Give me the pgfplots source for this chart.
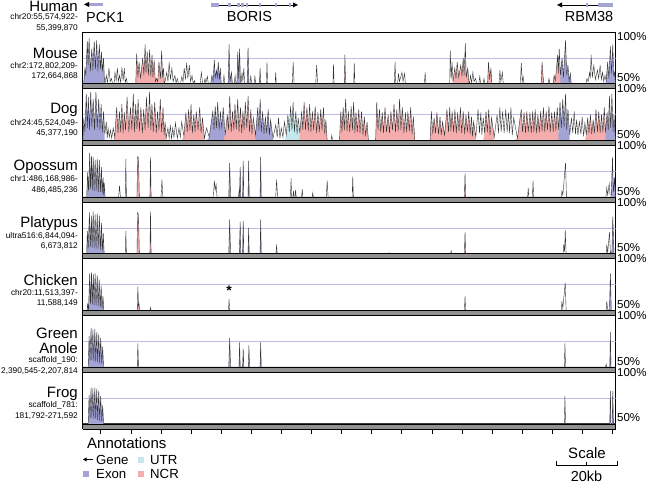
\documentclass[border=0pt]{standalone}
\usepackage{pgfplots}
\pgfplotsset{compat=1.18}
\usepackage{pgfplotstable}
\usepackage{fontspec}
\setmainfont{Liberation Sans}
\definecolor{exon}{RGB}{163,163,214}
\definecolor{ncr}{RGB}{245,172,172}
\definecolor{utr}{RGB}{196,232,236}
\definecolor{midline}{RGB}{188,188,228}
\definecolor{band}{RGB}{145,145,145}
\newcommand{\bigf}{\fontsize{15}{17}\selectfont}
\newcommand{\smf}{\fontsize{8.3}{9}\selectfont}
\newcommand{\pctf}{\fontsize{11.5}{13}\selectfont}

\pgfplotstableread[row sep=\\]{x y c\\
0 50 0\\ 0.3 50 1\\ 0.7 65 1\\ 1.0 58 1\\ 1.5 91 1\\ 1.75 68 1\\ 2.1 94 1\\ 2.5 62 1\\ 3.0 84 1\\ 3.35 63 1\\ 3.8 91 1\\ 4.2 64 1\\ 4.6 92 1\\ 5.0 62 1\\ 5.5 88 1\\ 5.85 64 1\\ 6.2 81 1\\ 6.5 62 1\\ 6.9 75 1\\ 7.2 52 1\\ 7.4 50 0\\ 7.8 58 0\\ 8.2 51 0\\ 8.7 65 0\\ 9.1 52 0\\ 9.5 55 0\\ 9.9 50 0\\ 10.4 50 0\\ 10.7 61 0\\ 11.1 53 0\\ 11.5 65 0\\ 11.8 52 0\\ 12.2 58 0\\ 12.6 51 0\\ 13.0 66 0\\ 13.4 53 0\\ 13.8 65 0\\ 14.1 51 0\\ 14.5 55 0\\ 14.8 50 0\\
17.6 50 2\\ 17.9 79 2\\ 18.3 56 2\\ 18.7 71 2\\ 19.2 55 2\\ 19.9 75 2\\ 20.3 58 2\\ 20.7 88 2\\ 21.0 60 2\\ 21.4 81 2\\ 21.8 58 2\\ 22.2 83 2\\ 22.6 57 2\\ 23.0 78 2\\ 23.3 56 2\\ 23.7 73 2\\ 24.1 52 2\\ 24.5 55 2\\ 24.9 52 2\\ 25.3 71 2\\ 25.8 55 2\\ 26.2 82 2\\ 26.5 56 2\\ 26.8 65 2\\ 27.1 50 2\\ 27.2 50 0\\
27.9 61 0\\ 28.3 52 0\\ 28.7 71 0\\ 29.1 54 0\\ 29.6 65 0\\ 30.0 52 0\\ 30.6 58 0\\ 31.0 51 0\\ 31.4 55 0\\ 31.8 50 0\\ 32.5 50 0\\ 32.9 57 0\\ 33.3 52 0\\ 33.7 65 0\\ 34.1 54 0\\ 34.5 70 0\\ 34.9 55 0\\ 35.4 68 0\\ 35.8 52 0\\ 36.3 58 0\\ 36.7 50 0\\ 37.1 53 0\\ 37.4 50 0\\
39.0 50 0\\ 39.4 61 0\\ 39.8 50 0\\ 40.3 50 0\\ 40.6 55 0\\ 40.9 51 0\\ 41.4 57 0\\ 41.7 50 0\\ 42.5 50 1\\ 42.9 58 1\\ 43.3 53 1\\ 43.7 73 1\\ 44.0 56 1\\ 44.4 63 1\\ 44.7 55 1\\ 45.0 71 1\\ 45.4 54 1\\ 45.7 65 1\\ 46.0 50 1\\ 46.1 50 0\\ 46.6 50 0\\ 46.9 58 0\\ 47.2 50 0\\ 48.3 50 1\\ 48.6 88 1\\ 48.9 52 1\\ 49.4 61 1\\ 49.7 50 1\\ 50.3 50 0\\ 50.6 58 0\\ 50.9 50 0\\ 51.2 50 1\\ 51.5 81 1\\ 51.8 55 1\\ 52.1 84 1\\ 52.4 50 1\\ 52.6 50 0\\ 52.9 61 0\\ 53.2 52 0\\ 53.5 65 0\\ 53.8 50 0\\ 54.6 50 1\\ 54.9 85 1\\ 55.2 50 1\\ 55.6 50 0\\ 55.8 58 0\\ 56.1 50 0\\ 57.0 50 0\\ 57.2 58 0\\ 57.4 50 0\\ 58.7 50 1\\ 58.9 65 1\\ 59.1 50 1\\ 61.0 50 0\\ 61.2 71 0\\ 61.4 50 0\\ 63.9 50 0\\ 64.1 61 0\\ 64.3 50 0\\ 69.6 50 0\\ 69.9 71 0\\ 70.2 50 0\\ 77.4 50 0\\ 77.7 68 0\\ 78.0 50 0\\ 83.1 50 0\\ 83.3 69 0\\ 83.5 50 0\\ 86.9 50 2\\ 87.1 78 2\\ 87.3 50 2\\ 90.0 50 0\\ 90.2 70 0\\ 90.4 50 0\\
103.5 50 0\\ 103.75 71 0\\ 104.0 50 0\\ 104.6 50 0\\ 104.9 60 0\\ 105.2 52 0\\ 106.05 61 0\\ 106.4 52 0\\ 106.9 60 0\\ 107.2 50 0\\ 113.5 50 0\\ 113.75 61 0\\ 114.0 50 0\\
121.9 50 0\\ 122.1 82 0\\ 122.4 55 0\\ 122.7 71 0\\ 123.0 52 2\\ 123.6 65 2\\ 124.0 55 2\\ 124.4 71 2\\ 124.9 56 2\\ 125.6 68 2\\ 126.0 57 2\\ 126.4 75 2\\ 126.7 58 2\\ 127.1 89 2\\ 127.4 56 2\\ 127.9 65 2\\ 128.3 51 2\\ 128.5 50 0\\ 128.8 58 0\\ 129.2 51 0\\ 129.6 61 0\\ 130.0 52 0\\ 130.5 55 0\\ 130.9 50 0\\ 131.6 50 0\\ 131.9 57 0\\ 132.2 50 0\\ 133.0 50 0\\ 133.3 55 0\\ 133.6 50 0\\ 134.5 50 2\\ 134.8 71 2\\ 135.2 54 2\\ 135.6 65 2\\ 135.9 50 2\\ 136.0 50 0\\ 138.3 50 0\\ 138.6 63 0\\ 138.9 52 0\\ 139.4 61 0\\ 139.7 50 0\\ 145.4 50 0\\ 145.7 70 0\\ 146.0 52 0\\ 146.3 57 0\\ 146.6 50 0\\ 152.3 50 2\\ 152.6 71 2\\ 152.9 58 2\\ 153.2 50 2\\ 154.6 50 0\\ 154.9 55 0\\ 155.2 50 0\\ 156.3 50 2\\ 156.6 58 2\\ 157.0 53 2\\ 157.8 78 2\\ 158.0 60 2\\ 158.3 84 2\\ 158.7 58 1\\ 159.25 75 1\\ 159.7 56 1\\ 160.4 92 1\\ 160.8 58 1\\ 161.2 68 1\\ 161.6 52 1\\ 162.0 60 1\\ 162.3 50 1\\ 162.4 50 0\\ 167.2 50 0\\ 167.5 55 0\\ 167.9 52 0\\ 168.4 61 0\\ 168.6 55 0\\ 168.9 78 0\\ 169.3 56 0\\ 169.8 68 0\\ 170.3 54 0\\ 171.0 63 0\\ 171.4 55 0\\ 171.9 68 0\\ 172.3 54 0\\ 172.7 61 0\\ 173.1 52 0\\ 173.5 58 0\\ 173.9 53 1\\ 174.4 71 1\\ 174.8 55 1\\ 175.3 86 1\\ 175.7 60 1\\ 176.1 88 1\\ 176.4 58 1\\ 176.7 61 1\\ 177 50 1\\
}\mouse

\pgfplotstableread[row sep=\\]{x y c\\
0 50 1\\ 0.34 72 1\\ 0.7 58 1\\ 1.15 95 1\\ 1.5 62 1\\ 1.84 92 1\\ 2.2 60 1\\ 2.64 97 1\\ 3.0 63 1\\ 3.45 90 1\\ 3.9 60 1\\ 4.37 97 1\\ 4.8 62 1\\ 5.29 90 1\\ 5.7 60 1\\ 6.09 85 1\\ 6.5 58 1\\ 6.89 78 1\\ 7.3 56 0\\ 7.81 68 0\\ 8.1 52 0\\ 8.39 62 0\\ 8.8 53 0\\ 9.19 60 0\\ 9.6 52 0\\ 10.11 62 0\\ 10.6 53 2\\
11.26 82 2\\ 11.7 57 2\\ 12.18 78 2\\ 12.6 58 2\\ 12.98 85 2\\ 13.4 57 2\\ 13.79 77 2\\ 14.2 60 2\\ 14.71 92 2\\ 15.3 58 2\\ 15.86 82 2\\ 16.3 60 2\\ 16.78 95 2\\ 17.2 58 2\\ 17.58 85 2\\ 18.0 61 2\\ 18.38 90 2\\ 18.8 59 2\\ 19.3 82 2\\ 19.8 57 2\\ 20.22 80 2\\ 20.7 60 2\\ 21.14 92 2\\ 21.7 62 2\\ 22.18 97 2\\ 22.6 60 2\\ 22.98 85 2\\ 23.4 58 2\\ 23.9 87 2\\ 24.4 57 2\\ 24.82 78 2\\ 25.3 60 2\\ 25.74 90 2\\ 26.2 58 2\\ 26.66 82 2\\ 27.0 55 2\\ 27.35 68 2\\ 27.7 52 0\\
28.27 62 0\\ 28.7 52 0\\ 29.07 65 0\\ 29.5 51 0\\ 29.87 62 0\\ 30.3 53 0\\ 30.79 67 0\\ 31.4 52 0\\ 31.94 62 0\\ 32.4 53 0\\ 32.86 68 0\\ 33.6 54 2\\
34.24 77 2\\ 34.7 58 2\\ 35.16 80 2\\ 35.6 60 2\\ 35.96 85 2\\ 36.4 57 2\\ 36.88 75 2\\ 37.3 58 2\\ 37.69 78 2\\ 38.3 60 2\\ 38.84 82 2\\ 39.3 57 2\\ 39.76 72 2\\ 40.4 52 0\\ 41.13 62 0\\ 42.0 53 1\\
43.2 78 1\\ 43.6 60 1\\ 44.0 83 1\\ 44.4 62 1\\ 44.81 87 1\\ 45.3 60 1\\ 45.73 78 1\\ 46.2 61 1\\ 46.65 82 1\\ 47.3 55 2\\
48.03 75 2\\ 48.4 60 2\\ 48.83 93 2\\ 49.3 58 2\\ 49.75 78 2\\ 50.2 60 2\\ 50.56 85 2\\ 51.0 61 2\\ 51.48 90 2\\ 51.9 58 2\\ 52.39 82 2\\ 52.8 57 2\\ 53.2 78 2\\ 53.6 60 2\\ 54.0 87 2\\ 54.5 62 2\\ 54.92 93 2\\ 55.4 58 2\\ 55.84 80 2\\ 56.2 56 2\\ 56.65 72 2\\ 57.4 55 1\\
58.14 82 1\\ 58.5 60 1\\ 58.94 90 1\\ 59.3 58 1\\ 59.75 78 1\\ 60.2 56 1\\ 60.67 73 1\\ 61.1 57 1\\ 61.59 80 1\\ 62.0 55 1\\ 62.39 70 1\\ 63.2 52 0\\
64.11 65 0\\ 64.6 53 0\\ 65.03 72 0\\ 65.5 52 0\\ 65.95 62 0\\ 66.5 53 0\\ 66.99 68 0\\ 67.6 55 3\\
68.14 75 3\\ 68.6 58 3\\ 69.05 83 3\\ 69.5 60 3\\ 69.86 87 3\\ 70.3 58 3\\ 70.78 78 3\\ 71.2 56 3\\ 71.58 72 3\\ 72.1 57 2\\
72.73 78 2\\ 73.1 60 2\\ 73.54 87 2\\ 74.0 60 2\\ 74.46 82 2\\ 74.9 59 2\\ 75.37 85 2\\ 75.8 58 2\\ 76.29 78 2\\ 76.7 60 2\\ 77.21 83 2\\ 77.7 57 2\\ 78.13 77 2\\ 78.6 58 2\\ 79.05 80 2\\ 79.5 60 2\\ 79.97 82 2\\ 80.4 56 2\\ 80.77 70 2\\ 81.2 50 0\\
82.5 50 0\\ 82.73 55 0\\ 83.0 50 0\\ 85.3 50 2\\
85.72 78 2\\ 86.1 58 2\\ 86.52 82 2\\ 86.9 60 2\\ 87.32 90 2\\ 87.8 59 2\\ 88.24 78 2\\ 88.7 58 2\\ 89.16 83 2\\ 89.6 60 2\\ 89.97 87 2\\ 90.4 57 2\\ 90.77 77 2\\ 91.2 58 2\\ 91.69 80 2\\ 92.1 57 2\\ 92.61 78 2\\ 93.1 55 2\\ 93.53 73 2\\ 94.0 54 2\\ 94.45 68 2\\ 94.9 50 2\\ 95.0 50 0\\ 97.3 50 2\\
97.67 87 2\\ 98.1 60 2\\ 98.58 80 2\\ 99.0 58 2\\ 99.5 77 2\\ 99.9 57 2\\ 100.42 82 2\\ 100.9 58 2\\ 101.46 75 2\\ 101.9 57 2\\ 102.38 78 2\\ 102.9 60 2\\ 103.41 85 2\\ 103.9 58 2\\ 104.33 80 2\\ 104.8 59 2\\ 105.25 90 2\\ 105.7 60 2\\ 106.17 82 2\\ 106.7 57 2\\ 107.2 77 2\\ 107.6 58 2\\ 108.01 78 2\\ 108.5 59 2\\ 108.93 82 2\\ 109.4 56 2\\ 109.84 73 2\\ 110.3 50 2\\ 110.4 50 0\\
115.4 50 2\\ 115.82 78 2\\ 116.3 56 2\\ 116.74 72 2\\ 117.2 57 2\\ 117.66 77 2\\ 118.2 56 2\\ 118.69 73 2\\ 119.1 55 2\\ 119.5 68 2\\ 120.2 55 2\\
120.99 80 2\\ 121.5 58 2\\ 121.91 82 2\\ 122.3 59 2\\ 122.71 78 2\\ 123.2 58 2\\ 123.63 80 2\\ 124.1 57 2\\ 124.55 77 2\\ 125.0 59 2\\ 125.47 82 2\\ 125.9 57 2\\ 126.39 78 2\\ 126.9 56 2\\ 127.31 75 2\\ 127.8 58 2\\ 128.23 78 2\\ 128.7 56 2\\ 129.15 73 2\\ 129.5 54 2\\ 129.84 68 2\\ 130.6 53 0\\
131.33 80 0\\ 131.8 57 0\\ 132.25 77 0\\ 132.6 55 0\\ 133.05 72 0\\ 133.5 57 2\\ 133.97 78 2\\ 134.4 58 2\\ 134.89 80 2\\ 135.3 55 2\\ 135.81 72 2\\ 136.7 53 0\\
137.65 75 0\\ 138.1 57 0\\ 138.57 82 0\\ 139.0 58 0\\ 139.49 78 0\\ 140.0 57 0\\ 140.52 80 0\\ 141.0 58 0\\ 141.44 77 0\\ 141.8 57 0\\ 142.25 82 0\\ 142.7 55 0\\ 143.17 72 0\\ 144.4 52 2\\
145.69 80 2\\ 146.1 58 2\\ 146.61 77 2\\ 147.1 57 2\\ 147.53 78 2\\ 148.0 58 2\\ 148.57 77 2\\ 149.0 57 2\\ 149.48 78 2\\ 149.9 58 2\\ 150.29 80 2\\ 150.8 57 2\\ 151.21 75 2\\ 151.7 58 2\\ 152.13 78 2\\ 152.6 59 2\\ 153.05 82 2\\ 153.5 58 2\\ 153.97 78 2\\ 154.4 60 2\\ 154.89 83 2\\ 155.3 58 2\\ 155.81 77 2\\ 156.3 58 2\\ 156.72 78 2\\ 157.2 59 2\\ 157.64 82 2\\ 158.1 60 1\\
158.56 87 1\\ 159.0 62 1\\ 159.48 90 1\\ 159.9 63 1\\ 160.4 95 1\\ 160.8 60 1\\ 161.2 80 1\\ 161.8 55 0\\
162.35 72 0\\ 162.8 57 0\\ 163.27 78 0\\ 163.7 56 0\\ 164.08 70 0\\ 164.5 55 0\\ 165.0 68 0\\ 165.5 56 0\\ 165.92 73 0\\ 166.4 54 0\\ 166.83 67 0\\ 167.3 55 2\\
167.75 72 2\\ 168.2 57 2\\ 168.67 75 2\\ 169.1 56 2\\ 169.59 70 2\\ 170.0 57 2\\ 170.51 80 2\\ 171.0 58 2\\ 171.43 78 2\\ 171.9 57 2\\ 172.35 75 2\\ 172.8 58 2\\ 173.27 82 2\\ 173.7 57 1\\ 174.19 77 1\\ 174.6 60 1\\ 174.99 93 1\\ 175.4 62 1\\ 175.8 95 1\\ 176.2 58 1\\ 176.49 75 1\\ 177 50 1\\
}\dog

\pgfplotstableread[row sep=\\]{x y c\\
0 50 0\\ 1.3 50 1\\ 1.6 74 1\\ 1.9 56 1\\ 2.3 93 1\\ 2.55 58 1\\ 2.9 90 1\\ 3.15 57 1\\ 3.45 89 1\\ 3.75 56 1\\ 4.1 86 1\\ 4.45 56 1\\ 4.8 87 1\\ 5.15 55 1\\ 5.5 86 1\\ 5.85 55 1\\ 6.2 79 1\\ 6.45 54 1\\ 6.75 69 1\\ 6.95 52 1\\ 7.1 64 1\\ 7.4 50 1\\ 7.5 50 0\\
11.9 50 0\\ 12.2 61 0\\ 12.5 50 0\\ 14.1 50 0\\ 14.3 87 0\\ 14.5 50 0\\ 18.0 50 2\\ 18.2 89 2\\ 18.5 88 2\\ 18.8 50 2\\ 22.3 50 2\\ 22.5 89 2\\ 22.7 50 2\\ 26.0 50 0\\ 26.3 67 0\\ 26.6 50 0\\ 43.4 50 0\\ 43.7 66 0\\ 44.0 57 0\\ 44.3 62 0\\ 44.6 50 0\\ 48.5 50 1\\ 48.8 83 1\\ 49.1 50 1\\ 51.7 50 0\\ 51.9 55 0\\ 52.05 50 1\\ 52.3 79 1\\ 52.5 50 1\\ 53.1 50 1\\ 53.3 85 1\\ 53.5 50 1\\ 54.9 50 1\\ 55.1 85 1\\ 55.3 50 1\\ 58.9 50 1\\ 59.1 89 1\\ 59.3 50 1\\ 64.1 50 0\\ 64.4 67 0\\ 64.7 50 0\\ 69.0 50 0\\ 69.2 68 0\\ 69.4 50 0\\ 69.8 50 0\\ 70.0 56 0\\ 70.2 50 0\\ 70.5 50 0\\ 70.7 57 0\\ 70.9 50 0\\ 72.7 50 0\\ 72.9 58 0\\ 73.1 50 0\\ 76.2 50 0\\ 76.4 54 0\\ 76.6 50 0\\ 80.9 50 0\\ 81.2 66 0\\ 81.5 50 0\\ 89.5 50 0\\ 89.7 70 0\\ 89.9 50 0\\ 126.8 50 2\\ 127.0 73 2\\ 127.2 50 2\\ 147.8 50 0\\ 148.0 59 0\\ 148.2 50 0\\ 149.4 50 0\\ 149.6 66 0\\ 149.8 50 0\\ 159.0 50 0\\ 159.2 56 0\\ 159.5 52 0\\ 160.4 83 0\\ 160.7 50 0\\ 173.8 50 0\\ 174.1 59 0\\ 174.4 52 0\\ 174.9 63 0\\ 175.2 52 0\\ 175.6 52 1\\ 176.0 89 1\\ 176.3 55 1\\ 176.7 69 1\\ 177 50 1\\
}\opossum

\pgfplotstableread[row sep=\\]{x y c\\
0 50 0\\ 1.3 50 1\\ 1.5 72 1\\ 1.8 55 1\\ 2.2 90 1\\ 2.5 57 1\\ 2.85 87 1\\ 3.1 56 1\\ 3.45 91 1\\ 3.75 56 1\\ 4.1 88 1\\ 4.4 55 1\\ 4.8 89 1\\ 5.1 55 1\\ 5.5 87 1\\ 5.85 54 1\\ 6.2 80 1\\ 6.5 53 1\\ 6.8 70 1\\ 7.1 50 1\\ 7.2 50 0\\ 14.1 50 0\\ 14.3 72 0\\ 14.5 50 0\\ 18.0 50 2\\ 18.2 90 2\\ 18.5 88 2\\ 18.8 50 2\\ 22.3 50 2\\ 22.5 91 2\\ 22.7 50 2\\ 48.5 50 1\\ 48.8 83 1\\ 49.1 50 1\\ 52.0 50 1\\ 52.3 81 1\\ 52.5 50 1\\ 53.1 50 1\\ 53.3 82 1\\ 53.5 50 1\\ 54.9 50 1\\ 55.1 75 1\\ 55.3 50 1\\ 58.9 50 1\\ 59.1 83 1\\ 59.3 50 1\\ 64.2 50 0\\ 64.4 59 0\\ 64.6 50 0\\ 101.6 50 0\\ 101.8 51 0\\ 102.0 50 0\\ 122.2 50 0\\ 122.4 53 0\\ 122.6 50 0\\ 126.8 50 2\\ 127.0 71 2\\ 127.2 50 2\\ 159.6 50 0\\ 159.8 59 0\\ 160.1 52 0\\ 160.3 73 0\\ 160.6 50 0\\ 173.9 50 0\\ 174.1 59 0\\ 174.4 51 0\\ 175.0 71 0\\ 175.3 51 0\\ 175.8 51 1\\ 176.1 86 1\\ 176.5 50 1\\ 177 50 0\\
}\platypus

\pgfplotstableread[row sep=\\]{x y c\\
0 50 0\\ 1.4 50 1\\ 1.6 56 1\\ 1.9 51 1\\ 2.3 86 1\\ 2.55 56 1\\ 2.9 87 1\\ 3.15 56 1\\ 3.5 85 1\\ 3.75 55 1\\ 4.1 86 1\\ 4.4 55 1\\ 4.8 84 1\\ 5.1 54 1\\ 5.45 80 1\\ 5.8 53 1\\ 6.1 74 1\\ 6.4 52 1\\ 6.7 64 1\\ 7.0 50 1\\ 7.1 50 0\\ 18.1 50 2\\ 18.3 73 2\\ 18.5 54 2\\ 18.7 56 2\\ 18.9 50 2\\ 22.3 50 0\\ 22.5 53 0\\ 22.7 50 0\\ 48.4 50 0\\ 48.6 61 0\\ 48.8 50 0\\ 126.8 50 0\\ 127.0 64 0\\ 127.2 50 0\\ 159.0 50 0\\ 159.2 59 0\\ 159.5 52 0\\ 160.3 77 0\\ 160.6 50 0\\ 173.9 50 0\\ 174.1 59 0\\ 174.4 51 0\\ 175.0 51 1\\ 175.3 86 1\\ 175.6 50 1\\ 177 50 0\\
}\chicken

\pgfplotstableread[row sep=\\]{x y c\\
0 50 0\\ 1.8 50 1\\ 2.1 80 1\\ 2.4 56 1\\ 2.75 88 1\\ 3.0 57 1\\ 3.35 86 1\\ 3.65 56 1\\ 4.0 87 1\\ 4.3 55 1\\ 4.65 84 1\\ 4.95 55 1\\ 5.3 82 1\\ 5.6 54 1\\ 5.95 78 1\\ 6.3 53 1\\ 6.6 70 1\\ 6.9 50 1\\ 7.0 50 0\\ 18.1 50 2\\ 18.3 73 2\\ 18.5 50 2\\ 48.5 50 1\\ 48.8 78 1\\ 49.1 50 1\\ 51.9 50 1\\ 52.1 74 1\\ 52.3 50 1\\ 53.1 50 1\\ 53.3 68 1\\ 53.5 50 1\\ 55.0 50 1\\ 55.2 71 1\\ 55.4 50 1\\ 58.9 50 1\\ 59.1 74 1\\ 59.3 50 1\\ 160.0 50 0\\ 160.2 73 0\\ 160.4 50 0\\ 173.7 50 0\\ 173.9 53 0\\ 174.1 50 0\\ 175.1 50 1\\ 175.3 84 1\\ 175.5 50 1\\ 177 50 0\\
}\anole

\pgfplotstableread[row sep=\\]{x y c\\
0 50 0\\ 1.8 50 1\\ 2.1 78 1\\ 2.4 55 1\\ 2.75 85 1\\ 3.0 56 1\\ 3.35 84 1\\ 3.65 55 1\\ 4.0 85 1\\ 4.3 55 1\\ 4.65 84 1\\ 4.95 54 1\\ 5.3 82 1\\ 5.6 53 1\\ 5.95 77 1\\ 6.3 52 1\\ 6.6 68 1\\ 6.9 50 1\\ 7.0 50 0\\ 160.0 50 0\\ 160.2 77 0\\ 160.4 50 0\\ 175.1 50 1\\ 175.3 82 1\\ 175.5 50 1\\ 175.9 50 1\\ 176.1 82 1\\ 176.3 50 1\\ 177 50 0\\
}\frog

\pgfplotsset{vpanel/.style={scale only axis, width=532.7pt, height=51.7pt,
  xmin=0, xmax=177, ymin=50, ymax=100, ticks=none, anchor=north west,
  axis line style={line width=0.8pt, black}}}

% #1 = top y (pt, no unit), #2 = table
\newcommand{\vista}[2]{%
\begin{axis}[vpanel, at={(82.8pt,#1pt)}]
\addplot[draw=midline, line width=0.5pt, mark=none] coordinates {(0,75) (177,75)};
\addplot[fill=exon, draw=none, mark=none] table[x=x, y expr={\thisrow{c}==1 ? \thisrow{y} : 50}] {#2};
\addplot[fill=ncr, draw=none, mark=none] table[x=x, y expr={\thisrow{c}==2 ? \thisrow{y} : 50}] {#2};
\addplot[fill=utr, draw=none, mark=none] table[x=x, y expr={\thisrow{c}==3 ? \thisrow{y} : 50}] {#2};
\addplot[draw=black!80, line width=0.4pt, mark=none] table[x=x, y=y] {#2};
\end{axis}%
\fill[band] (82.8pt,#1pt-51.7pt) rectangle (615.5pt,#1pt-56.7pt);
\draw[line width=0.7pt] (82.8pt,#1pt-51.7pt) -- (615.5pt,#1pt-51.7pt);
\draw[line width=0.7pt] (82.8pt,#1pt-56.7pt) -- (615.5pt,#1pt-56.7pt);
\draw[line width=0.8pt] (82.8pt,#1pt-51.7pt) -- (82.8pt,#1pt-56.7pt);
\draw[line width=0.8pt] (615.5pt,#1pt-51.7pt) -- (615.5pt,#1pt-56.7pt);
\node[anchor=west, inner sep=0pt, font=\pctf] at (617pt,#1pt-45.7pt) {50\%};
}
% #1 top, #2 name, #3 line1, #4 line2
\newcommand{\spec}[4]{%
\node[anchor=east, inner sep=0pt, font=\bigf] at (78pt,#1pt-21.5pt) {#2};
\node[anchor=east, inner sep=0pt, font=\smf] at (78pt,#1pt-34pt) {#3};
\node[anchor=east, inner sep=0pt, font=\smf] at (78pt,#1pt-44.5pt) {#4};
}

\begin{document}
\begin{tikzpicture}
\useasboundingbox (0pt,0pt) rectangle (648pt,484pt);

\vista{452}{\mouse}
\vista{395.3}{\dog}
\vista{338.6}{\opossum}
\vista{281.9}{\platypus}
\vista{225.2}{\chicken}
\vista{168.5}{\anole}
\vista{111.8}{\frog}
\begin{axis}[vpanel, at={(82.8pt,225.2pt)}, axis lines=none]
\node[font=\fontsize{14}{14}\selectfont\bfseries] at (axis cs:48.6,69) {*};
\end{axis}

% 100% labels
\node[anchor=west, inner sep=0pt, font=\pctf] at (617pt,447pt) {100\%};
\foreach \t in {395.3,338.6,281.9,225.2,168.5,111.8}
  \node[anchor=west, inner sep=0pt, font=\pctf] at (617pt,\t pt) {100\%};

% species labels
\node[anchor=east, inner sep=0pt, font=\bigf] at (78pt,478pt) {Human};
\node[anchor=east, inner sep=0pt, font=\smf] at (78pt,466.8pt) {chr20:55,574,922-};
\node[anchor=east, inner sep=0pt, font=\smf] at (78pt,455.7pt) {55,399,870};
\spec{452}{Mouse}{chr2:172,802,209-}{172,664,868}
\spec{395.3}{Dog}{chr24:45,524,049-}{45,377,190}
\spec{338.6}{Opossum}{chr1:486,168,986-}{486,485,236}
\spec{281.9}{Platypus}{ultra516:6,844,094-}{6,673,812}
\spec{225.2}{Chicken}{chr20:11,513,397-}{11,588,149}
\node[anchor=east, inner sep=0pt, font=\bigf] at (78pt,151pt) {Green};
\node[anchor=east, inner sep=0pt, font=\bigf] at (78pt,135.5pt) {Anole};
\node[anchor=east, inner sep=0pt, font=\smf] at (78pt,124pt) {scaffold\_190:};
\node[anchor=east, inner sep=0pt, font=\smf] at (78pt,113pt) {2,390,545-2,207,814};
\node[anchor=east, inner sep=0pt, font=\bigf] at (78pt,90.5pt) {Frog};
\node[anchor=east, inner sep=0pt, font=\smf] at (78pt,78.5pt) {scaffold\_781:};
\node[anchor=east, inner sep=0pt, font=\smf] at (78pt,67.5pt) {181,792-271,592};

% gene annotations
\draw[line width=0.8pt] (86pt,479.5pt) -- (103pt,479.5pt);
\fill[exon] (89pt,477.6pt) rectangle (103pt,481.4pt);
\fill (84pt,479.5pt) -- (89pt,482pt) -- (89pt,477pt) -- cycle;
\node[anchor=west, inner sep=0pt, font=\fontsize{14.5}{15}\selectfont] at (86pt,466.5pt) {PCK1};

\draw[line width=0.8pt] (211pt,479pt) -- (293pt,479pt);
\fill (298pt,479pt) -- (293pt,481.5pt) -- (293pt,476.5pt) -- cycle;
\foreach \a/\b in {211/218.5,228/231,237/239.5,241/243.5,245.5/248,258.5/260.5,275/277,289/291}
  \fill[exon] (\a pt,477pt) rectangle (\b pt,481pt);
\node[inner sep=0pt, font=\fontsize{14.5}{15}\selectfont] at (249.5pt,467pt) {BORIS};

\draw[line width=0.8pt] (562pt,479pt) -- (613pt,479pt);
\fill (557pt,479pt) -- (562pt,481.5pt) -- (562pt,476.5pt) -- cycle;
\fill[exon] (585.8pt,477pt) rectangle (588pt,481pt);
\fill[exon] (598pt,477pt) rectangle (613pt,481pt);
\node[anchor=east, inner sep=0pt, font=\fontsize{14.5}{15}\selectfont] at (613.5pt,467pt) {RBM38};

% bottom ticks
\foreach \k in {0,...,17}
  \draw[line width=0.6pt] ({(100.7+30.1*\k)*1pt},55.1pt) -- ({(100.7+30.1*\k)*1pt},50.1pt);

% annotation legend
\node[anchor=west, inner sep=0pt, font=\fontsize{15}{16}\selectfont] at (87pt,41pt) {Annotations};
\draw[line width=0.7pt] (85pt,24.5pt) -- (93pt,24.5pt);
\fill (83pt,24.5pt) -- (86.5pt,26.5pt) -- (86.5pt,22.5pt) -- cycle;
\node[anchor=west, inner sep=0pt, font=\fontsize{13.2}{14}\selectfont] at (96pt,24pt) {Gene};
\fill[utr] (138.3pt,21pt) rectangle (144.3pt,27pt);
\node[anchor=west, inner sep=0pt, font=\fontsize{13.2}{14}\selectfont] at (150pt,24pt) {UTR};
\fill[exon] (82.7pt,7pt) rectangle (88.7pt,13pt);
\node[anchor=west, inner sep=0pt, font=\fontsize{13.2}{14}\selectfont] at (96pt,10pt) {Exon};
\fill[ncr] (138.3pt,7pt) rectangle (144.3pt,13pt);
\node[anchor=west, inner sep=0pt, font=\fontsize{13.2}{14}\selectfont] at (150pt,10pt) {NCR};

% scale
\node[inner sep=0pt, font=\fontsize{15}{16}\selectfont] at (587pt,31pt) {Scale};
\draw[line width=0.6pt] (556pt,23pt) -- (556pt,19pt) -- (617pt,19pt) -- (617pt,23pt);
\draw[line width=0.6pt] (586.5pt,19pt) -- (586.5pt,21.5pt);
\node[inner sep=0pt, font=\fontsize{14.5}{16}\selectfont] at (586.5pt,8pt) {20kb};
\end{tikzpicture}
\end{document}
